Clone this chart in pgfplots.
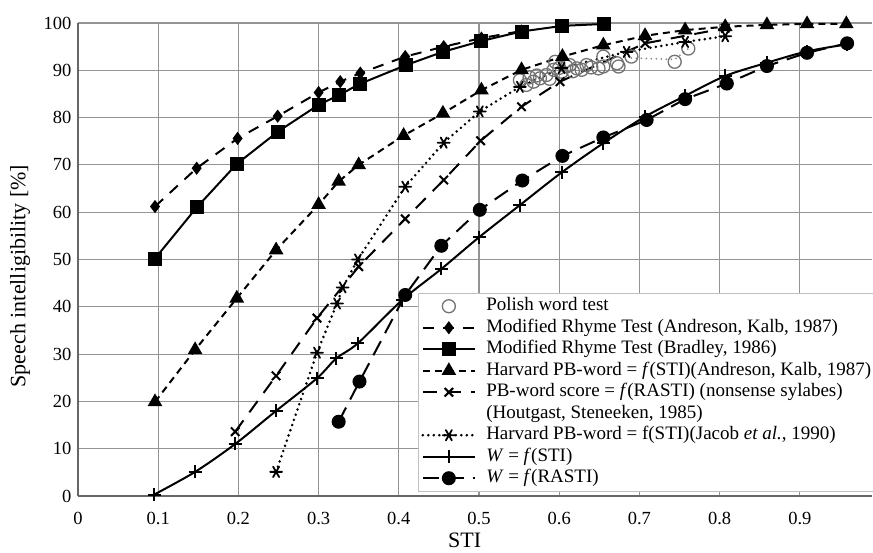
\documentclass[border=0pt]{standalone}
\usepackage{fontspec}
\setmainfont{Liberation Serif}
\usepackage{pgfplots}
\pgfplotsset{compat=1.18}
\begin{document}
\begin{tikzpicture}
\useasboundingbox (-78pt,-56pt) rectangle (795pt,496pt);
\begin{axis}[
  at={(0pt,0pt)}, anchor=south west,
  scale only axis, width=794pt, height=473pt,
  xmin=0, xmax=0.99, ymin=0, ymax=100,
  xtick={0,0.1,0.2,0.3,0.4,0.5,0.6,0.7,0.8,0.9},
  xticklabels={0,0.1,0.2,0.3,0.4,0.5,0.6,0.7,0.8,0.9},
  ytick={0,10,...,100},
  grid=major,
  grid style={draw=black!42, line width=1.2pt},
  axis x line*=bottom, axis y line*=left,
  axis line style={draw=black!60, line width=1.5pt},
  tick style={draw=none},
  /pgf/number format/assume math mode=true,
  tick label style={font=\fontsize{18.5}{20}\selectfont},
  xticklabel style={yshift=-13pt},
  yticklabel style={xshift=-3pt},
  xlabel={STI},
  ylabel={Speech intelligibility [\%]},
  label style={font=\fontsize{22}{24}\selectfont},
  xlabel style={at={(axis description cs:0.487,0)}, anchor=north, yshift=-33pt},
  ylabel style={at={(axis description cs:0,0.465)}, anchor=center, yshift=58pt},
  legend image code/.code={\draw[mark repeat=2,mark phase=2,#1] plot coordinates {(0pt,0pt) (26pt,0pt) (52pt,0pt)};},
  legend style={at={(axis cs:0.424,42.9)}, anchor=north west, draw=black!25, line width=0.8pt, fill=white,
    font=\fontsize{19}{21}\selectfont, cells={anchor=west}, row sep=0pt,
    /tikz/every odd column/.append style={column sep=9pt},
    nodes={inner sep=1pt, text height=14.5pt, text depth=5pt}},
  every axis plot/.append style={line width=2pt},
]
% Polish word test
\addplot[only marks, mark=o, mark size=6.5pt, mark options={draw=black!55, fill=white, line width=1.3pt}] coordinates {
(0.551,87.9) (0.559,86.9) (0.563,88.5) (0.568,87.6) (0.572,88.9) (0.576,88.3) (0.584,89.0) (0.588,88.2)
(0.593,90.1) (0.595,91.8) (0.600,90.5) (0.603,89.7) (0.609,90.8) (0.613,91.1) (0.617,89.8) (0.622,90.4)
(0.628,90.1) (0.634,91.1) (0.640,90.6) (0.649,90.4) (0.655,90.8) (0.655,92.9) (0.672,91.5) (0.674,90.8)
(0.690,92.9) (0.744,91.8) (0.761,94.6)
};
\addlegendentry{Polish word test}
\addplot[forget plot, draw=black!45, line width=2pt, dash pattern=on 0pt off 5pt, line cap=round] coordinates {
(0.690,92.6) (0.744,92.3) (0.761,94.6)
};
% MRT Anderson Kalb
\addplot[dash pattern=on 11pt off 9pt, mark=diamond*, mark size=5pt, mark options={solid}] coordinates {
(0.096,61.2) (0.148,69.3) (0.199,75.6) (0.249,80.3) (0.300,85.3) (0.327,87.6) (0.352,89.4)
(0.408,92.9) (0.456,95.0) (0.503,96.8) (0.553,98.3)
};
\addlegendentry{Modified Rhyme Test (Andreson, Kalb, 1987)}
% MRT Bradley
\addplot[solid, mark=square*, mark size=6pt] coordinates {
(0.096,50.2) (0.148,61.0) (0.198,70.2) (0.249,77.0) (0.300,82.7) (0.326,84.8) (0.351,87.1)
(0.409,91.1) (0.455,93.9) (0.503,96.2) (0.553,98.2) (0.604,99.4) (0.656,99.8)
};
\addlegendentry{Modified Rhyme Test (Bradley, 1986)}
% Harvard PB Anderson
\addplot[dash pattern=on 7pt off 5pt, mark=triangle*, mark size=6.5pt, mark options={solid}] coordinates {
(0.096,19.9) (0.146,30.9) (0.198,41.8) (0.247,52.0) (0.300,61.6) (0.325,66.5) (0.350,70.0)
(0.406,76.2) (0.455,80.9) (0.503,85.8) (0.553,90.1) (0.604,92.9) (0.655,95.3) (0.707,97.3)
(0.757,98.5) (0.807,99.2) (0.859,99.6) (0.909,99.8) (0.958,99.8)
};
\addlegendentry{Harvard PB-word = \textit{f}(STI)(Andreson, Kalb, 1987)}
% PB-word RASTI
\addplot[dash pattern=on 14pt off 10pt, mark=x, mark size=6pt, mark options={solid}] coordinates {
(0.196,13.6) (0.247,25.4) (0.298,37.6) (0.350,48.5) (0.408,58.6) (0.456,66.8) (0.502,75.1)
(0.553,82.3) (0.601,87.6) (0.707,95.7) (0.807,98.9)
};
\addlegendentry{PB-word score = \textit{f}(RASTI) (nonsense sylabes)}
\addlegendimage{empty legend}
\addlegendentry{(Houtgast, Steneeken, 1985)}
% Jacob
\addplot[dash pattern=on 0pt off 5.5pt, line cap=round, line width=2.8pt, mark=asterisk, mark size=6pt, mark options={solid, rotate=90, line width=1.8pt}] coordinates {
(0.247,5.1) (0.298,30.3) (0.323,40.7) (0.330,44.1) (0.349,50.0) (0.408,65.4) (0.456,74.7)
(0.501,81.3) (0.551,86.5) (0.603,90.5) (0.684,93.9) (0.757,96.0) (0.807,97.2)
};
\addlegendentry{Harvard PB-word = f(STI)(Jacob \textit{et al.}, 1990)}
% W = f(STI)
\addplot[solid, smooth, mark=+, mark size=6.5pt] coordinates {
(0.095,0.3) (0.146,5.1) (0.196,11.0) (0.247,18.0) (0.298,24.9) (0.322,29.1) (0.349,32.3)
(0.404,41.4) (0.453,48.0) (0.500,54.7) (0.551,61.5) (0.603,68.4) (0.655,74.6) (0.707,80.2)
(0.757,84.6) (0.807,88.8) (0.859,91.6) (0.909,94.0) (0.959,95.5)
};
\addlegendentry{\textit{W} = \textit{f}(STI)}
% W = f(RASTI)
\addplot[dash pattern=on 16pt off 9pt, mark=*, mark size=6pt, mark options={solid}] coordinates {
(0.325,15.7) (0.351,24.2) (0.408,42.5) (0.453,52.9) (0.501,60.5) (0.554,66.7) (0.604,71.9)
(0.655,75.8) (0.709,79.5) (0.757,83.9) (0.809,87.2) (0.859,90.9) (0.909,93.7) (0.959,95.7)
};
\addlegendentry{\textit{W} = \textit{f}(RASTI)}
\end{axis}
\end{tikzpicture}
\end{document}
